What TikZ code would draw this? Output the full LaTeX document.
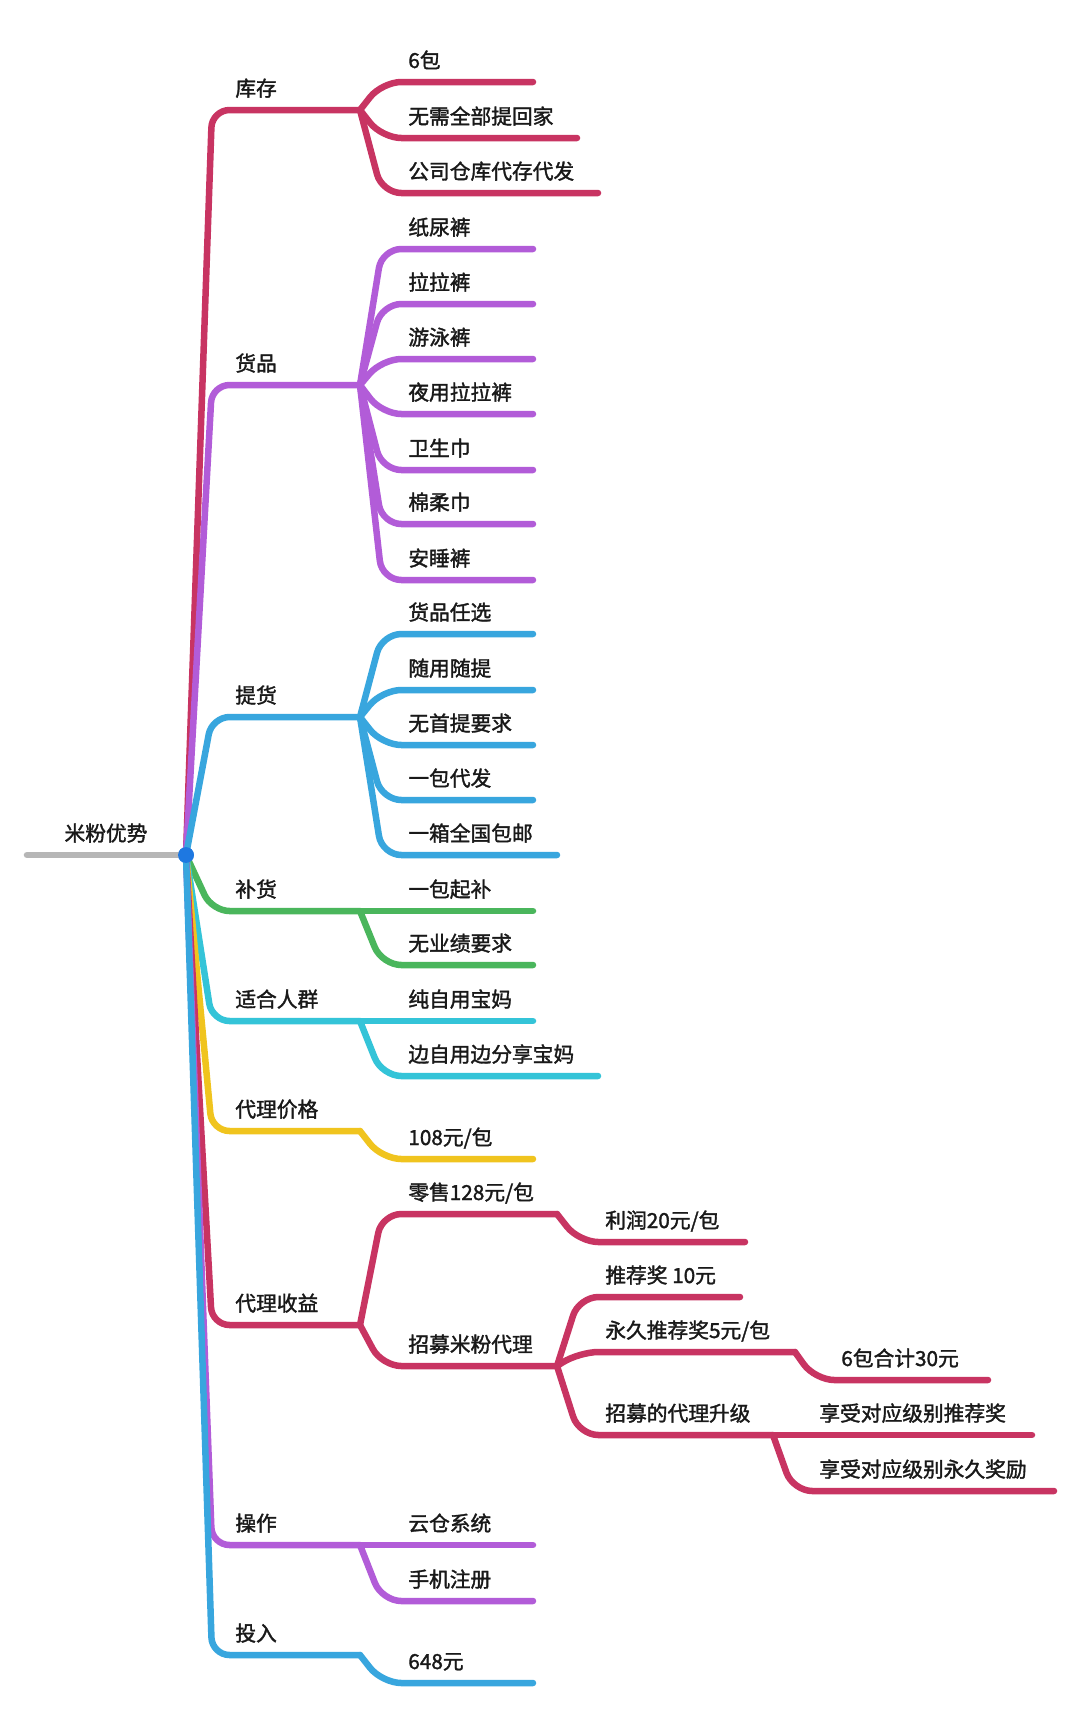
\documentclass[tikz,border=0pt]{standalone}
\usepackage{fontspec}
\setmainfont{Noto Sans CJK SC}[BoldFont={*}, BoldFeatures={FakeBold=1.6}]
\definecolor{crim}{RGB}{200,52,98}
\definecolor{purp}{RGB}{178,92,216}
\definecolor{blu}{RGB}{56,166,222}
\definecolor{grn}{RGB}{74,182,92}
\definecolor{cyn}{RGB}{52,196,216}
\definecolor{yel}{RGB}{240,196,30}
\definecolor{gry}{RGB}{182,182,182}
\definecolor{dotc}{RGB}{30,120,225}
\definecolor{txt}{RGB}{25,25,25}
\newcommand\mmtop[4]{% name, colour, y, text
  \coordinate (#1-f) at (360,#3);
  \node[lbl, anchor=base west] (#1) at (235,#3-14) {#4};
  \draw[#2, branch] (root.center) -- (212,#3) -- (#1-f);
}
\newcommand\mmkid[7]{% name, colour, fork, corner x, y, end x, text
  \coordinate (#1-e) at (#6,#5);
  \node[lbl, anchor=base west] (#1) at (#4+26,#5-14) {#7};
  \draw[#2, branch, rounded corners=11pt] (#3) -- (#4,#5) -- (#1-e);
}
\begin{document}
\begin{tikzpicture}[x=0.02cm,y=-0.02cm,
  branch/.style={line width=3.7pt, line cap=round, rounded corners=10pt},
  lbl/.style={inner sep=0pt, text=txt, font=\fontsize{11.8pt}{14pt}\selectfont\bfseries}]
\useasboundingbox (0,0) rectangle (1080,1712);
\fill[white] (0,0) rectangle (1080,1712);
\coordinate (rootL) at (27,855);
\node[circle, fill=dotc, minimum size=9pt, inner sep=0pt] (root) at (186,855) {};
\node[lbl, anchor=base] (rootT) at (106,841) {米粉优势};
\draw[gry, branch] (rootL) -- (root.center);

% level 1
\mmtop{kc}{crim}{110}{库存}
\mmtop{hp}{purp}{385}{货品}
\mmtop{th}{blu}{717}{提货}
\mmtop{bh}{grn}{911}{补货}
\mmtop{rq}{cyn}{1021}{适合人群}
\mmtop{jg}{yel}{1131}{代理价格}
\mmtop{sy}{crim}{1325}{代理收益}
\mmtop{cz}{purp}{1545}{操作}
\mmtop{tr}{blu}{1655}{投入}

% 库存
\mmkid{k1}{crim}{kc-f}{382}{82}{533}{6包}
\mmkid{k2}{crim}{kc-f}{382}{138}{577}{无需全部提回家}
\mmkid{k3}{crim}{kc-f}{382}{193}{598}{公司仓库代存代发}
% 货品
\mmkid{h1}{purp}{hp-f}{382}{249}{533}{纸尿裤}
\mmkid{h2}{purp}{hp-f}{382}{304}{533}{拉拉裤}
\mmkid{h3}{purp}{hp-f}{382}{359}{533}{游泳裤}
\mmkid{h4}{purp}{hp-f}{382}{414}{533}{夜用拉拉裤}
\mmkid{h5}{purp}{hp-f}{382}{470}{533}{卫生巾}
\mmkid{h6}{purp}{hp-f}{382}{524}{533}{棉柔巾}
\mmkid{h7}{purp}{hp-f}{382}{580}{533}{安睡裤}
% 提货
\mmkid{t1}{blu}{th-f}{382}{634}{533}{货品任选}
\mmkid{t2}{blu}{th-f}{382}{690}{533}{随用随提}
\mmkid{t3}{blu}{th-f}{382}{745}{533}{无首提要求}
\mmkid{t4}{blu}{th-f}{382}{800}{533}{一包代发}
\mmkid{t5}{blu}{th-f}{382}{855}{557}{一箱全国包邮}
% 补货
\mmkid{b1}{grn}{bh-f}{382}{911}{533}{一包起补}
\mmkid{b2}{grn}{bh-f}{382}{965}{533}{无业绩要求}
% 适合人群
\mmkid{q1}{cyn}{rq-f}{382}{1021}{533}{纯自用宝妈}
\mmkid{q2}{cyn}{rq-f}{382}{1076}{598}{边自用边分享宝妈}
% 代理价格
\mmkid{j1}{yel}{jg-f}{382}{1159}{533}{108元/包}
% 代理收益
\mmkid{s1}{crim}{sy-f}{382}{1214}{557}{零售128元/包}
\mmkid{s11}{crim}{s1-e}{579}{1242}{745}{利润20元/包}
\mmkid{s2}{crim}{sy-f}{382}{1366}{557}{招募米粉代理}
\mmkid{s21}{crim}{s2-e}{579}{1297}{740}{推荐奖 10元}
\mmkid{s22}{crim}{s2-e}{579}{1352}{795}{永久推荐奖5元/包}
\mmkid{s221}{crim}{s22-e}{815}{1380}{988}{6包合计30元}
\mmkid{s23}{crim}{s2-e}{579}{1435}{773}{招募的代理升级}
\mmkid{s231}{crim}{s23-e}{793}{1435}{1032}{享受对应级别推荐奖}
\mmkid{s232}{crim}{s23-e}{793}{1491}{1054}{享受对应级别永久奖励}
% 操作
\mmkid{c1}{purp}{cz-f}{382}{1545}{533}{云仓系统}
\mmkid{c2}{purp}{cz-f}{382}{1601}{533}{手机注册}
% 投入
\mmkid{r1}{blu}{tr-f}{382}{1683}{533}{648元}

\node[circle, fill=dotc, minimum size=9pt, inner sep=0pt] at (root) {};
\end{tikzpicture}
\end{document}
